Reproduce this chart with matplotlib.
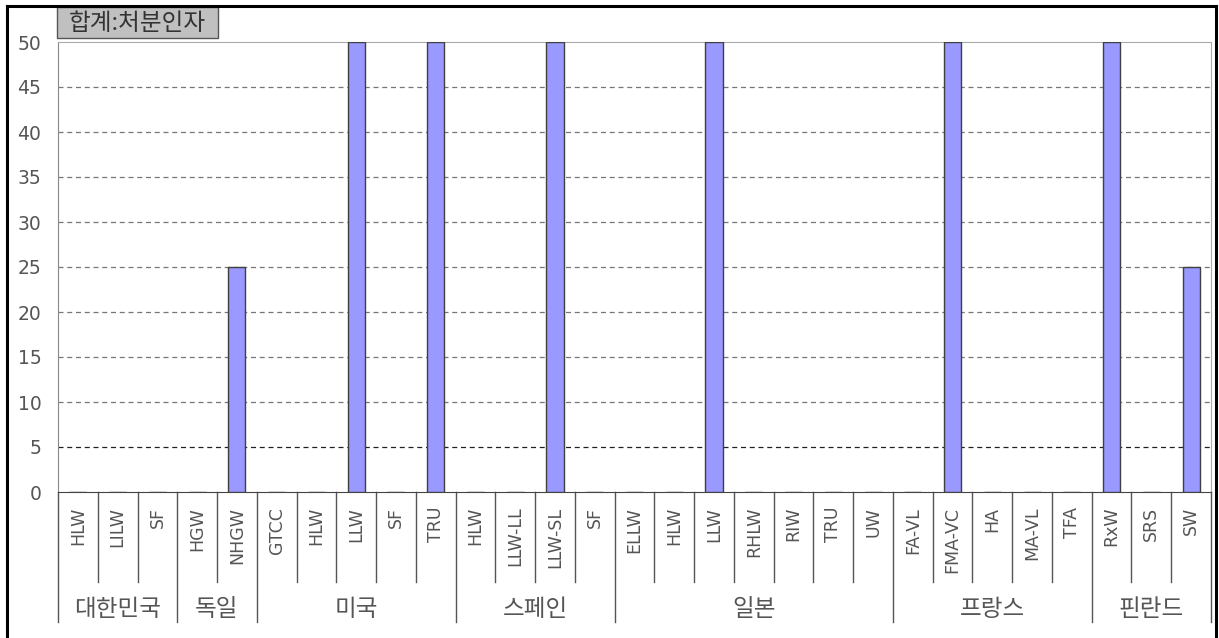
import numpy as np
import matplotlib
matplotlib.use("Agg")
import matplotlib.pyplot as plt
import matplotlib.transforms as mtransforms
from matplotlib.lines import Line2D
from matplotlib.patches import Rectangle

# données
pays = ["대한민국", "독일", "미국", "스페인", "일본", "프랑스", "핀란드"]
categories = [
    ["HLW", "LILW", "SF"],
    ["HGW", "NHGW"],
    ["GTCC", "HLW", "LLW", "SF", "TRU"],
    ["HLW", "LLW-LL", "LLW-SL", "SF"],
    ["ELLW", "HLW", "LLW", "RHLW", "RIW", "TRU", "UW"],
    ["FA-VL", "FMA-VC", "HA", "MA-VL", "TFA"],
    ["RxW", "SRS", "SW"],
]
valeurs = [
    [0, 0, 0],
    [0, 25],
    [0, 0, 50, 0, 50],
    [0, 0, 50, 0],
    [0, 0, 50, 0, 0, 0, 0],
    [0, 50, 0, 0, 0],
    [50, 0, 25],
]
titre = "합계:처분인자"
yticks = list(range(0, 51, 5))

noms = [c for g in categories for c in g]
hauteurs = [v for g in valeurs for v in g]
tailles = [len(g) for g in categories]
x = np.arange(len(noms))

W, H = 1219, 638
fig = plt.figure(figsize=(W / 100, H / 100), dpi=100)
ax = fig.add_axes([58 / W, 1 - 492 / H, (1211 - 58) / W, 450 / H])

# grille pointillée
for y in yticks[1:-1]:
    couleur = "#202020" if y == 5 else "#777777"
    ax.axhline(y, color=couleur, lw=0.9, ls=(0, (4, 3)), zorder=1)

ax.bar(x, hauteurs, width=0.43, color="#9999FF", edgecolor="#404040", lw=1, zorder=3)

ax.set_xlim(-0.5, len(noms) - 0.5)
ax.set_ylim(0, 50)
ax.set_yticks(yticks)
ax.set_yticklabels([str(v) for v in yticks], fontsize=13.5, color="#555555", family="DejaVu Sans")
ax.tick_params(axis="y", length=0, pad=12)
ax.set_xticks([])

ax.spines["left"].set_color("#888888")
ax.spines["top"].set_color("#aaaaaa")
ax.spines["right"].set_color("#aaaaaa")
ax.spines["bottom"].set_color("#444444")

trans = mtransforms.blended_transform_factory(ax.transData, ax.transAxes)

# étiquettes des catégories
for xi, nom in zip(x, noms):
    ax.text(xi, -0.033, nom, rotation=90, ha="center", va="top", fontsize=12.5,
            color="#555555", family="DejaVu Sans", transform=trans)

# séparateurs verticaux
bornes = np.cumsum([0] + tailles)
for i in range(len(noms) + 1):
    bas = -0.289 if i in bornes else -0.2
    ax.plot([i - 0.5, i - 0.5], [0, bas], color="#555555", lw=1,
            transform=trans, clip_on=False)

# noms des pays
for g, nom in enumerate(pays):
    centre = (bornes[g] + bornes[g + 1]) / 2 - 0.5
    ax.text(centre, -0.262, nom, ha="center", va="center", fontsize=17,
            color="#555555", family="Noto Sans CJK KR", transform=trans)

# titre dans une boîte grise
fig.add_artist(Rectangle((57 / W, 1 - 38 / H), 161 / W, 31 / H, transform=fig.transFigure,
                         fc="#c0c0c0", ec="#555555", lw=1))
fig.text(137.5 / W, 1 - 23 / H, titre, ha="center", va="center", fontsize=17,
         color="#333333", family="Noto Sans CJK KR")

# cadre extérieur
for xs, ys in [([7 / W, 7 / W], [0, 1 - 6 / H]),
               ([7 / W, 1216 / W], [1 - 6 / H, 1 - 6 / H]),
               ([1216 / W, 1216 / W], [0, 1 - 6 / H])]:
    fig.add_artist(Line2D(xs, ys, color="black", lw=2.2, transform=fig.transFigure))

fig.savefig("out.png", dpi=100)
